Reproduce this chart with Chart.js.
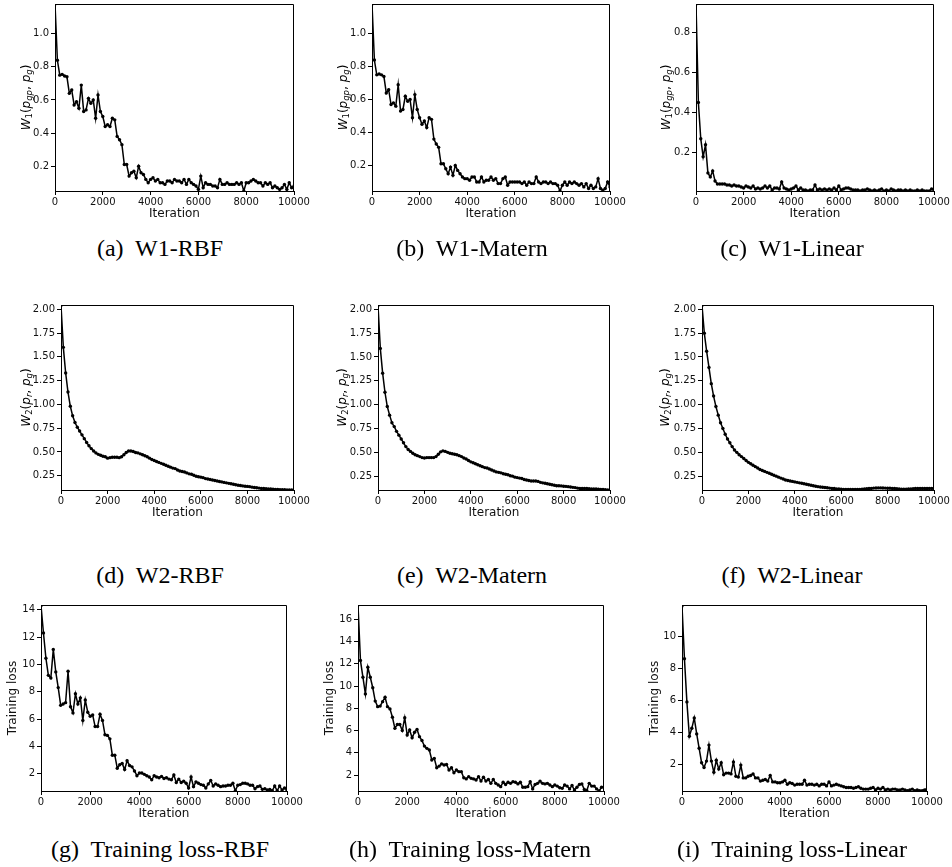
<!DOCTYPE html>
<html>
<head>
<meta charset="utf-8">
<script src="https://cdn.jsdelivr.net/npm/chart.js@4.4.1/dist/chart.umd.min.js"></script>
<style>
  body { margin: 0; background: #fff; }
  #fig { position: relative; width: 952px; height: 867px; overflow: hidden; background: #fff; }
  #fig canvas { position: absolute; }
  .cap {
    position: absolute; width: 340px; text-align: center; white-space: nowrap;
    font-family: "Liberation Serif", "Times New Roman", serif; font-size: 24px; line-height: 24px; color: #000;
  }
</style>
</head>
<body>
<div id="fig"></div>
<script>
// iteration grid (x values)
const iterations = [
  0, 100, 200, 300, 400, 500, 600, 700, 800, 900,
  1000, 1100, 1200, 1300, 1400, 1500, 1600, 1700, 1800, 1900,
  2000, 2100, 2200, 2300, 2400, 2500, 2600, 2700, 2800, 2900,
  3000, 3100, 3200, 3300, 3400, 3500, 3600, 3700, 3800, 3900,
  4000, 4100, 4200, 4300, 4400, 4500, 4600, 4700, 4800, 4900,
  5000, 5100, 5200, 5300, 5400, 5500, 5600, 5700, 5800, 5900,
  6000, 6100, 6200, 6300, 6400, 6500, 6600, 6700, 6800, 6900,
  7000, 7100, 7200, 7300, 7400, 7500, 7600, 7700, 7800, 7900,
  8000, 8100, 8200, 8300, 8400, 8500, 8600, 8700, 8800, 8900,
  9000, 9100, 9200, 9300, 9400, 9500, 9600, 9700, 9800, 9900,
  10000
];
const xTicks = [0, 2000, 4000, 6000, 8000, 10000];

// W1 distance
const w1Rbf = [
  1.18, 0.84, 0.75, 0.755, 0.745, 0.74, 0.64, 0.66, 0.57, 0.59,
  0.55, 0.69, 0.53, 0.54, 0.61, 0.58, 0.60, 0.49, 0.63, 0.53,
  0.50, 0.44, 0.45, 0.44, 0.49, 0.48, 0.38, 0.36, 0.33, 0.21,
  0.21, 0.14, 0.16, 0.17, 0.13, 0.20, 0.16, 0.15, 0.12, 0.10,
  0.12, 0.13, 0.11, 0.12, 0.10, 0.10, 0.09, 0.11, 0.11, 0.10,
  0.12, 0.11, 0.11, 0.10, 0.12, 0.09, 0.12, 0.10, 0.09, 0.08,
  0.06, 0.14, 0.07, 0.10, 0.09, 0.09, 0.08, 0.08, 0.07, 0.12,
  0.09, 0.09, 0.10, 0.09, 0.09, 0.09, 0.10, 0.09, 0.10, 0.05,
  0.10, 0.10, 0.11, 0.12, 0.11, 0.10, 0.10, 0.08, 0.10, 0.09,
  0.10, 0.07, 0.08, 0.07, 0.06, 0.07, 0.09, 0.06, 0.10, 0.07,
  0.08
];
const w1Matern = [
  1.18, 0.84, 0.75, 0.755, 0.75, 0.74, 0.64, 0.66, 0.57, 0.58,
  0.56, 0.69, 0.53, 0.54, 0.62, 0.59, 0.60, 0.49, 0.63, 0.54,
  0.49, 0.45, 0.47, 0.43, 0.49, 0.48, 0.36, 0.33, 0.31, 0.21,
  0.21, 0.18, 0.15, 0.19, 0.14, 0.20, 0.17, 0.15, 0.13, 0.12,
  0.12, 0.11, 0.13, 0.13, 0.10, 0.10, 0.13, 0.10, 0.11, 0.11,
  0.13, 0.11, 0.12, 0.09, 0.09, 0.12, 0.13, 0.08, 0.10, 0.10,
  0.10, 0.10, 0.10, 0.09, 0.10, 0.08, 0.10, 0.09, 0.09, 0.13,
  0.10, 0.09, 0.10, 0.10, 0.09, 0.10, 0.09, 0.09, 0.08, 0.045,
  0.08, 0.10, 0.08, 0.10, 0.09, 0.10, 0.09, 0.08, 0.09, 0.07,
  0.09, 0.06, 0.08, 0.06, 0.07, 0.12, 0.06, 0.05, 0.06, 0.10,
  0.07
];
const w1Linear = [
  0.94, 0.45, 0.27, 0.18, 0.24, 0.10, 0.08, 0.11, 0.06, 0.045,
  0.045, 0.045, 0.045, 0.04, 0.04, 0.035, 0.04, 0.035, 0.035, 0.03,
  0.025, 0.035, 0.03, 0.025, 0.035, 0.02, 0.025, 0.02, 0.025, 0.035,
  0.025, 0.035, 0.015, 0.025, 0.025, 0.02, 0.055, 0.025, 0.02, 0.015,
  0.02, 0.025, 0.035, 0.015, 0.025, 0.015, 0.015, 0.01, 0.015, 0.015,
  0.04, 0.015, 0.02, 0.015, 0.02, 0.015, 0.02, 0.015, 0.025, 0.015,
  0.035, 0.015, 0.02, 0.025, 0.025, 0.02, 0.015, 0.015, 0.015, 0.01,
  0.015, 0.015, 0.02, 0.015, 0.01, 0.015, 0.01, 0.015, 0.02, 0.01,
  0.015, 0.01, 0.02, 0.015, 0.01, 0.015, 0.015, 0.01, 0.015, 0.01,
  0.015, 0.01, 0.01, 0.015, 0.01, 0.015, 0.01, 0.01, 0.01, 0.02,
  0.015
];

// W2 distance
const w2Rbf = [
  2.04, 1.60, 1.33, 1.13, 0.98, 0.88, 0.81, 0.76, 0.72, 0.68,
  0.64, 0.60, 0.565, 0.535, 0.51, 0.49, 0.475, 0.465, 0.455, 0.45,
  0.435, 0.44, 0.445, 0.445, 0.445, 0.44, 0.45, 0.47, 0.495, 0.51,
  0.51, 0.505, 0.495, 0.49, 0.48, 0.47, 0.46, 0.45, 0.435, 0.42,
  0.41, 0.40, 0.39, 0.38, 0.37, 0.36, 0.35, 0.34, 0.33, 0.325,
  0.31, 0.30, 0.295, 0.29, 0.28, 0.27, 0.265, 0.255, 0.245, 0.24,
  0.235, 0.23, 0.22, 0.215, 0.21, 0.205, 0.20, 0.195, 0.19, 0.185,
  0.18, 0.175, 0.17, 0.165, 0.16, 0.155, 0.15, 0.147, 0.143, 0.14,
  0.138, 0.135, 0.13, 0.127, 0.124, 0.12, 0.117, 0.115, 0.113, 0.111,
  0.11, 0.108, 0.107, 0.105, 0.104, 0.103, 0.102, 0.101, 0.101, 0.10,
  0.10
];
const w2Matern = [
  2.04, 1.59, 1.33, 1.13, 0.98, 0.89, 0.81, 0.77, 0.72, 0.68,
  0.64, 0.60, 0.56, 0.53, 0.51, 0.49, 0.475, 0.465, 0.455, 0.445,
  0.44, 0.445, 0.445, 0.445, 0.445, 0.455, 0.48, 0.505, 0.515, 0.51,
  0.50, 0.49, 0.485, 0.48, 0.475, 0.465, 0.455, 0.44, 0.43, 0.415,
  0.40, 0.39, 0.38, 0.37, 0.36, 0.35, 0.34, 0.335, 0.325, 0.315,
  0.305, 0.295, 0.29, 0.285, 0.275, 0.27, 0.265, 0.255, 0.25, 0.24,
  0.235, 0.23, 0.225, 0.215, 0.21, 0.205, 0.20, 0.20, 0.20, 0.195,
  0.185, 0.18, 0.175, 0.17, 0.165, 0.16, 0.155, 0.15, 0.15, 0.148,
  0.145, 0.143, 0.14, 0.137, 0.133, 0.13, 0.125, 0.12, 0.12, 0.12,
  0.12, 0.118, 0.117, 0.115, 0.115, 0.113, 0.112, 0.11, 0.108, 0.106,
  0.105
];
const w2Linear = [
  2.04, 1.75, 1.56, 1.39, 1.22, 1.09, 0.98, 0.89, 0.81, 0.75,
  0.69, 0.64, 0.60, 0.56, 0.525, 0.50, 0.475, 0.455, 0.435, 0.415,
  0.395, 0.38, 0.365, 0.35, 0.335, 0.32, 0.31, 0.30, 0.29, 0.28,
  0.27, 0.26, 0.25, 0.24, 0.23, 0.22, 0.21, 0.205, 0.20, 0.195,
  0.19, 0.185, 0.18, 0.175, 0.17, 0.165, 0.16, 0.155, 0.15, 0.145,
  0.14, 0.137, 0.134, 0.131, 0.128, 0.125, 0.122, 0.12, 0.117, 0.115,
  0.113, 0.112, 0.111, 0.11, 0.11, 0.11, 0.111, 0.112, 0.112, 0.113,
  0.115, 0.118, 0.12, 0.122, 0.125, 0.126, 0.127, 0.127, 0.126, 0.125,
  0.124, 0.123, 0.122, 0.12, 0.118, 0.115, 0.114, 0.113, 0.114, 0.115,
  0.117, 0.118, 0.12, 0.121, 0.122, 0.121, 0.12, 0.121, 0.122, 0.122,
  0.12
];

// training loss
const lossRbf = [
  14.3, 12.3, 10.45, 9.2, 9.0, 11.1, 9.45, 8.3, 7.0, 7.1,
  7.2, 9.5, 6.9, 6.45, 7.85, 7.1, 7.55, 5.9, 7.4, 6.5,
  6.2, 6.3, 5.45, 5.45, 6.35, 5.9, 4.85, 4.8, 4.55, 3.35,
  3.35, 2.4, 2.65, 2.75, 2.3, 2.95, 2.6, 2.5, 2.2, 1.85,
  2.05, 2.05, 1.95, 1.85, 1.75, 1.55, 1.85, 1.75, 1.7, 1.8,
  1.65, 1.7, 1.6, 1.55, 1.9, 1.35, 1.6, 1.35, 1.45, 1.3,
  0.95, 1.75, 1.05, 1.4, 1.3, 1.2, 1.15, 0.95, 1.25, 1.5,
  1.1, 1.25, 1.15, 1.05, 1.1, 1.1, 1.15, 1.15, 1.3, 0.75,
  1.15, 1.2, 1.3, 1.3, 1.25, 1.15, 1.15, 0.9, 1.05, 1.1,
  0.85, 0.9, 0.8, 0.85, 0.75, 1.1, 0.75, 1.1, 0.8, 0.95,
  0.8
];
const lossMatern = [
  17.3, 12.3, 10.8, 9.3, 11.7, 10.8, 9.85, 8.65, 8.15, 8.2,
  8.6, 9.0, 8.15, 7.95, 7.2, 6.2, 6.55, 6.55, 6.0, 7.15,
  5.6, 6.05, 5.35, 5.85, 6.1, 5.45, 5.1, 4.6, 4.4, 4.25,
  3.35, 3.5, 2.65, 2.8, 3.0, 2.9, 2.95, 2.45, 2.65, 2.2,
  2.45, 2.3, 2.3, 1.75, 1.65, 1.85, 1.7, 1.65, 1.55, 1.85,
  1.45, 1.8, 1.45, 1.6, 1.25, 1.6, 1.25, 1.1, 0.95, 1.35,
  1.15, 1.35, 1.25, 1.4, 1.35, 1.2, 1.35, 0.9, 0.9, 0.95,
  1.4, 0.75, 1.15, 1.25, 1.45, 1.25, 1.2, 1.25, 1.1, 0.95,
  1.1, 1.0, 0.85, 0.8, 1.1, 1.0, 0.75, 1.05, 0.65, 0.9,
  1.15, 1.2, 0.7, 0.6, 1.25, 1.0, 1.0, 0.75, 0.56, 0.9,
  0.9
];
const lossLinear = [
  11.9, 8.6, 5.9, 3.75, 4.25, 4.9, 3.9, 3.0, 2.1, 1.8,
  2.2, 3.2, 2.2, 1.5, 2.25, 1.7, 2.1, 1.35, 1.45, 1.45,
  1.4, 2.15, 1.25, 1.2, 1.95, 1.15, 1.15, 1.25, 1.3, 1.4,
  1.15, 1.15, 0.95, 1.0, 1.05, 0.95, 1.3, 0.9, 0.9, 0.85,
  0.85, 0.9, 1.0, 0.75, 0.85, 0.8, 0.7, 0.75, 0.75, 0.75,
  1.0, 0.7, 0.75, 0.75, 0.7, 0.75, 0.65, 0.75, 0.75, 0.65,
  0.9, 0.65, 0.7, 0.75, 0.7, 0.65, 0.6, 0.55, 0.55, 0.55,
  0.5, 0.55, 0.6, 0.5, 0.45, 0.45, 0.45, 0.5, 0.55, 0.4,
  0.5, 0.45, 0.55, 0.4, 0.45, 0.4, 0.45, 0.45, 0.4, 0.4,
  0.45, 0.4, 0.35, 0.4, 0.45, 0.35, 0.4, 0.35, 0.35, 0.4,
  0.45
];

const ticksW1 = [0.2, 0.4, 0.6, 0.8, 1.0];
const ticksW1Lin = [0.2, 0.4, 0.6, 0.8];
const ticksW2 = [0.25, 0.5, 0.75, 1.0, 1.25, 1.5, 1.75, 2.0];
const ticksLossRbf = [2, 4, 6, 8, 10, 12, 14];
const ticksLossMatern = [2, 4, 6, 8, 10, 12, 14, 16];
const ticksLossLin = [2, 4, 6, 8, 10];

// mathtext-like y labels
const labelW1 = [
  { t: 'W', it: true }, { t: '1', sub: true }, { t: '(' }, { t: 'p', it: true },
  { t: 'gp', it: true, sub: true }, { t: ', ' }, { t: 'p', it: true }, { t: 'g', it: true, sub: true }, { t: ')' }
];
const labelW2 = [
  { t: 'W', it: true }, { t: '2', sub: true }, { t: '(' }, { t: 'p', it: true },
  { t: 'r', it: true, sub: true }, { t: ', ' }, { t: 'p', it: true }, { t: 'g', it: true, sub: true }, { t: ')' }
];

const FONT = '"DejaVu Sans", sans-serif';

const panels = [
  { cap: '(a)\u00a0 W1-RBF', values: w1Rbf, ymin: 0.05, ymax: 1.18, yticks: ticksW1, dec: 1, math: labelW1, off: 30, left: 55, right: 294, top: 4, bottom: 191, cx: 160, cy: 236 },
  { cap: '(b)\u00a0 W1-Matern', values: w1Matern, ymin: 0.045, ymax: 1.18, yticks: ticksW1, dec: 1, math: labelW1, off: 30, left: 372, right: 610, top: 4, bottom: 191, cx: 472, cy: 236 },
  { cap: '(c)\u00a0 W1-Linear', values: w1Linear, ymin: 0.01, ymax: 0.94, yticks: ticksW1Lin, dec: 1, math: labelW1, off: 31, left: 696, right: 934, top: 4, bottom: 191, cx: 792, cy: 236 },
  { cap: '(d)\u00a0 W2-RBF', values: w2Rbf, ymin: 0.10, ymax: 2.045, yticks: ticksW2, dec: 2, math: labelW2, off: 36, left: 61, right: 294, top: 305, bottom: 490, cx: 160, cy: 563 },
  { cap: '(e)\u00a0 W2-Matern', values: w2Matern, ymin: 0.105, ymax: 2.045, yticks: ticksW2, dec: 2, math: labelW2, off: 37, left: 378, right: 610, top: 305, bottom: 490, cx: 472, cy: 563 },
  { cap: '(f)\u00a0 W2-Linear', values: w2Linear, ymin: 0.105, ymax: 2.045, yticks: ticksW2, dec: 2, math: labelW2, off: 38, left: 702, right: 934, top: 305, bottom: 490, cx: 792, cy: 563 },
  { cap: '(g)\u00a0 Training loss-RBF', values: lossRbf, ymin: 0.73, ymax: 14.35, yticks: ticksLossRbf, dec: 0, title: 'Training loss', off: 28, left: 41, right: 287, top: 605, bottom: 791, cx: 160, cy: 837 },
  { cap: '(h)\u00a0 Training loss-Matern', values: lossMatern, ymin: 0.56, ymax: 17.3, yticks: ticksLossMatern, dec: 0, title: 'Training loss', off: 28, left: 358, right: 604, top: 605, bottom: 791, cx: 470, cy: 837 },
  { cap: '(i)\u00a0 Training loss-Linear', values: lossLinear, ymin: 0.33, ymax: 11.96, yticks: ticksLossLin, dec: 0, title: 'Training loss', off: 27, left: 682, right: 927, top: 605, bottom: 791, cx: 792, cy: 837 }
];

// top and right spines
const framePlugin = {
  id: 'frame',
  afterDraw(chart) {
    const { ctx, chartArea: a } = chart;
    ctx.save();
    ctx.strokeStyle = '#000';
    ctx.lineWidth = 1;
    ctx.beginPath();
    ctx.moveTo(a.left, a.top + 0.5);
    ctx.lineTo(a.right - 0.5, a.top + 0.5);
    ctx.lineTo(a.right - 0.5, a.bottom);
    ctx.stroke();
    ctx.restore();
  }
};

function mathLabel(parts, offset) {
  return {
    id: 'mathLabel',
    afterDraw(chart) {
      const { ctx, chartArea: a } = chart;
      const fontOf = p => (p.it ? 'italic ' : '') + (p.sub ? 8.5 : 12) + 'px ' + FONT;
      ctx.save();
      ctx.translate(a.left - offset, (a.top + a.bottom) / 2);
      ctx.rotate(-Math.PI / 2);
      ctx.fillStyle = '#000';
      ctx.textBaseline = 'alphabetic';
      let total = 0;
      parts.forEach(p => { ctx.font = fontOf(p); total += ctx.measureText(p.t).width; });
      let x = -total / 2;
      parts.forEach(p => {
        ctx.font = fontOf(p);
        ctx.fillText(p.t, x, p.sub ? 7 : 4.5);
        x += ctx.measureText(p.t).width;
      });
      ctx.restore();
    }
  };
}

const fig = document.getElementById('fig');

panels.forEach(p => {
  const canvas = document.createElement('canvas');
  const w = p.right - p.left + 82;
  const h = p.bottom - p.top + 46;
  canvas.width = w;
  canvas.height = h;
  canvas.style.left = (p.left - 60) + 'px';
  canvas.style.top = (p.top - 10) + 'px';
  canvas.style.width = w + 'px';
  canvas.style.height = h + 'px';
  fig.appendChild(canvas);

  const cap = document.createElement('div');
  cap.className = 'cap';
  cap.textContent = p.cap;
  cap.style.left = (p.cx - 170) + 'px';
  cap.style.top = p.cy + 'px';
  fig.appendChild(cap);

  const plugins = [framePlugin];
  if (p.math) plugins.push(mathLabel(p.math, p.off));

  new Chart(canvas, {
    type: 'line',
    data: {
      datasets: [{
        data: iterations.map((x, i) => ({ x: x, y: p.values[i] })),
        borderColor: '#000',
        borderWidth: 1.5,
        pointRadius: 1.7,
        pointBorderWidth: 0,
        pointBackgroundColor: '#000',
        pointHoverRadius: 0,
        tension: 0
      }]
    },
    options: {
      responsive: false,
      animation: false,
      events: [],
      layout: { padding: { left: 0, top: 10, right: 22, bottom: 0 } },
      plugins: { legend: { display: false }, tooltip: { enabled: false } },
      scales: {
        x: {
          type: 'linear',
          min: 0,
          max: 10000,
          afterBuildTicks: s => { s.ticks = xTicks.map(v => ({ value: v })); },
          afterFit: s => { s.height = 36; },
          ticks: { color: '#111', font: { family: FONT, size: 10 }, maxRotation: 0, autoSkip: false, padding: 1, callback: v => String(v) },
          grid: { drawOnChartArea: false, drawTicks: true, tickLength: 4, color: '#000' },
          border: { display: true, color: '#000', width: 1 },
          title: { display: true, text: 'Iteration', color: '#111', font: { family: FONT, size: 12 }, padding: { top: 0, bottom: 6 } }
        },
        y: {
          type: 'linear',
          min: p.ymin,
          max: p.ymax,
          afterBuildTicks: s => { s.ticks = p.yticks.map(v => ({ value: v })); },
          afterFit: s => { s.width = 60; },
          ticks: { color: '#111', font: { family: FONT, size: 10 }, autoSkip: false, padding: 2, callback: v => Number(v).toFixed(p.dec) },
          grid: { drawOnChartArea: false, drawTicks: true, tickLength: 4, color: '#000' },
          border: { display: true, color: '#000', width: 1 },
          title: p.title
            ? { display: true, text: p.title, color: '#111', font: { family: FONT, size: 12 }, padding: { top: 60 - p.off - 7.2, bottom: 0 } }
            : { display: false }
        }
      }
    },
    plugins: plugins
  });
});
</script>
</body>
</html>
